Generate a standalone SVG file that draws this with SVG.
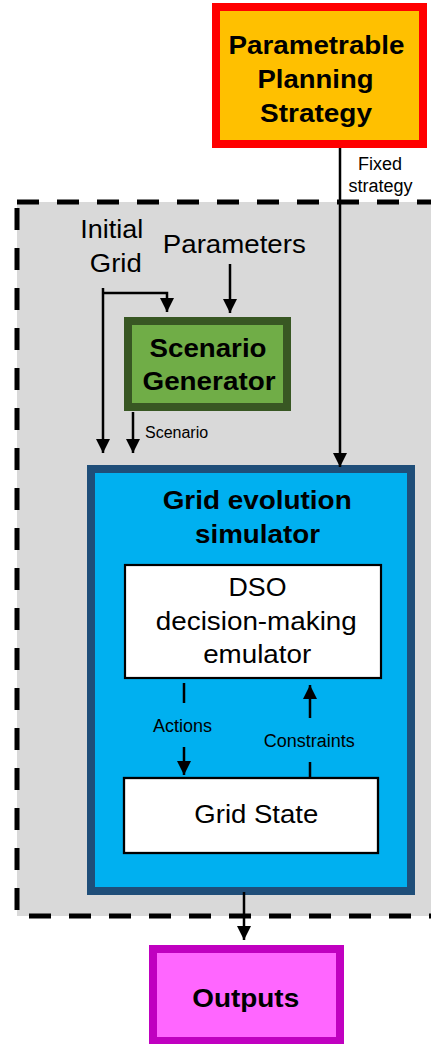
<svg xmlns="http://www.w3.org/2000/svg" width="431" height="1044" viewBox="0 0 431 1044">
<style>
text{font-family:"Liberation Sans",Arial,sans-serif;fill:#000}
.big{font-size:25px;text-anchor:middle}
.bold{font-weight:bold}
.lbl{font-size:18px;text-anchor:middle}
.conn{fill:none;stroke:#000;stroke-width:2.5}
</style>
<defs>
<marker id="ah" viewBox="0 0 14 14" refX="14" refY="7" markerWidth="14" markerHeight="14" markerUnits="userSpaceOnUse" orient="auto">
<path d="M0,0 L14,7 L0,14 z" fill="#000"/>
</marker>
</defs>
<g id="boundary">
<rect x="17" y="202" width="440" height="714" fill="#D9D9D9" stroke="#000" stroke-width="5" stroke-dasharray="22 18"/>
</g>
<g id="strategy">
<rect x="216" y="7" width="207" height="137" fill="#FFC000" stroke="#FF0000" stroke-width="8"/>
<text class="big bold" x="316.5" y="54" textLength="176" lengthAdjust="spacingAndGlyphs">Parametrable</text>
<text class="big bold" x="315.5" y="88" textLength="116" lengthAdjust="spacingAndGlyphs">Planning</text>
<text class="big bold" x="316" y="122" textLength="112" lengthAdjust="spacingAndGlyphs">Strategy</text>
</g>
<g id="initial-grid">
<text class="big" x="111.7" y="238" textLength="63" lengthAdjust="spacingAndGlyphs">Initial</text>
<text class="big" x="115.8" y="272" textLength="52" lengthAdjust="spacingAndGlyphs">Grid</text>
</g>
<g id="parameters">
<text class="big" x="234.3" y="253" textLength="143" lengthAdjust="spacingAndGlyphs">Parameters</text>
</g>
<g id="scenario-generator">
<rect x="128" y="321" width="159" height="86" fill="#70AD47" stroke="#385723" stroke-width="8"/>
<text class="big bold" x="208" y="357" textLength="117" lengthAdjust="spacingAndGlyphs">Scenario</text>
<text class="big bold" x="209" y="390" textLength="133" lengthAdjust="spacingAndGlyphs">Generator</text>
</g>
<g id="grid-evolution-simulator">
<rect x="91" y="469" width="320" height="422" fill="#00B0F0" stroke="#1F4E79" stroke-width="8"/>
<text class="big bold" x="257.2" y="509" textLength="189" lengthAdjust="spacingAndGlyphs">Grid evolution</text>
<text class="big bold" x="257.5" y="543" textLength="125" lengthAdjust="spacingAndGlyphs">simulator</text>
</g>
<g id="dso-emulator">
<rect x="125" y="565" width="256" height="113" fill="#FFFFFF" stroke="#000" stroke-width="2.2"/>
<text class="big" x="257.5" y="596" textLength="58" lengthAdjust="spacingAndGlyphs">DSO</text>
<text class="big" x="256.3" y="630" textLength="201" lengthAdjust="spacingAndGlyphs">decision-making</text>
<text class="big" x="257.2" y="663" textLength="108" lengthAdjust="spacingAndGlyphs">emulator</text>
</g>
<g id="grid-state">
<rect x="124" y="778" width="254" height="75" fill="#FFFFFF" stroke="#000" stroke-width="2.3"/>
<text class="big" x="256.3" y="823" textLength="124" lengthAdjust="spacingAndGlyphs">Grid State</text>
</g>
<g id="outputs">
<rect x="153" y="949" width="187" height="92" fill="#FF66FF" stroke="#C000C0" stroke-width="8"/>
<text class="big bold" x="245.7" y="1007" textLength="107" lengthAdjust="spacingAndGlyphs">Outputs</text>
</g>
<g id="connectors">
<path class="conn" d="M340,148 V467" marker-end="url(#ah)"/>
<path class="conn" d="M103,288 V453" marker-end="url(#ah)"/>
<path class="conn" d="M103,293 H167 V312" stroke-width="1.5" marker-end="url(#ah)"/>
<path class="conn" d="M230,264 V313" marker-end="url(#ah)"/>
<path class="conn" d="M133,412 V453" marker-end="url(#ah)"/>
<path class="conn" d="M184,683 V703 M184,747 V775" marker-end="url(#ah)"/>
<path class="conn" d="M310,777 V762 M310,718 V685" marker-end="url(#ah)"/>
<path class="conn" d="M244,892 V940" marker-end="url(#ah)"/>
<text class="lbl" x="380" y="170">Fixed</text>
<text class="lbl" x="380.5" y="192">strategy</text>
<text x="145" y="438" style="font-size:16px">Scenario</text>
<text class="lbl" x="182.5" y="732">Actions</text>
<text class="lbl" x="309.3" y="747">Constraints</text>
</g>
</svg>
